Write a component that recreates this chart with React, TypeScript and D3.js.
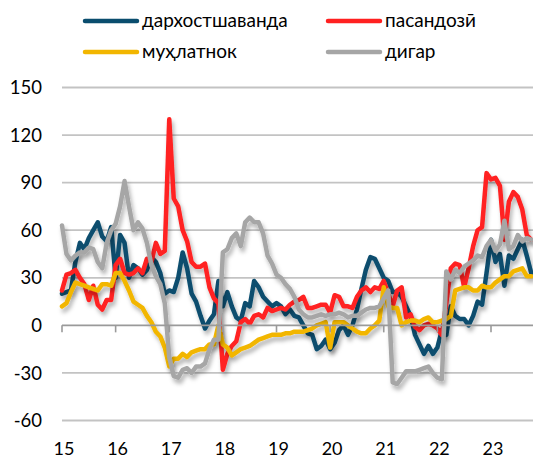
import React from "react";
import * as d3 from "d3";

const W = 533;
const H = 461;

const yearLabels = ["15", "16", "17", "18", "19", "20", "21", "22", "23"];
const yTicks = [-60, -30, 0, 30, 60, 90, 120, 150];

const seriesNames = ["дархостшаванда", "пасандозӣ", "муҳлатнок", "дигар"];
const seriesColors = ["#0a4d6e", "#ff2020", "#f2b600", "#a6a6a6"];

// monthly, Jan 2015 – Oct 2023
const demand = [
  20, 21, 22, 40, 52, 48, 55, 60, 65, 56, 53, 62,
  30, 57, 52, 30, 38, 36, 32, 35, 43, 40, 33, 20,
  22, 21, 30, 46, 36, 20, 15, 6, -2, 3, 7, 28,
  12, 21, 12, 5, 3, 14, 12, 28, 24, 18, 15, 12,
  14, 12, 7, 10, 6, 5, 0, -5, -6, -15, -13, -9,
  -15, -11, -3, 0, -6, 0, 10, 23, 35, 43, 42, 36,
  30, 28, 21, 21, 18, 12, 6, -6, -12, -18, -13, -18,
  -14, -3, -6, 12, 6, 4, 4, 0, 6, 15, 13, 33,
  54, 40, 45, 25, 44, 42, 48, 54, 44, 33,
];
const savings = [
  22, 32, 33, 35, 30, 26, 16, 25, 13, 10, 16, 16,
  38, 42, 33, 32, 33, 36, 33, 42, 40, 52, 45, 47,
  130, 80, 75, 60, 53, 40, 37, 37, 39, 24, 17, 14,
  -28, -18, -13, -10, 2, 4, 1, 6, 7, 5, 11, 9,
  10, 11, 10, 13, 15, 16, 18, 11, 11, 12, 13, 13,
  8, 19, 18, 12, 12, 11, 18, 22, 24, 21, 24, 23,
  28, 20, 12, 22, 24, 5, 7, -1, -3, 0, 1, 0,
  -2, -6, 14, 36, 39, 38, 24, 36, 50, 60, 62, 96,
  92, 93, 88, 54, 78, 84, 81, 73, 57, 54,
];
const term = [
  12, 14, 21, 27, 26, 25, 24, 23, 22, 26, 26, 25,
  33, 33, 28, 22, 15, 13, 11, 6, 2, -4, -7, -14,
  -26, -21, -21, -18, -20, -17, -16, -15, -15, -12, -12, 0,
  -12, -14, -19, -17, -15, -14, -13, -11, -9, -8, -7, -6,
  -6, -6, -5, -5, -4, -4, -4, -3, -2, 0, 1, 2,
  -14, 2, 2, 2, 0, -2, -4, -5, -5, -2, 0, 3,
  24, 12, 11, 11, 0, 2, 3, 3, 2, 4, 5, 2,
  2, 3, 4, 6, 22, 23, 24, 24, 22, 22, 25, 24,
  24, 27, 29, 31, 31, 34, 35, 36, 31, 31,
];
const other = [
  63, 45, 41, 44, 46, 46, 49, 48, 40, 36, 52, 60,
  64, 75, 91, 75, 60, 65, 61, 52, 38, 31, 26, 14,
  -20, -32, -33, -28, -27, -30, -26, -26, -24, -15, -9, -9,
  46, 48, 55, 58, 50, 65, 68, 65, 65, 58, 44, 39,
  32, 30, 26, 23, 18, 10, 7, 5, 5, 6, 7, 6,
  7, 7, 8, 7, 5, 6, 6, 8, 10, 11, 11, 12,
  17, 22, -36, -37, -33, -29, -29, -29, -28, -27, -26, -30,
  -33, -34, 34, 29, 35, 33, 37, 39, 41, 44, 43, 50,
  54, 47, 51, 66, 48, 50, 57, 53, 55, 54,
];

const seriesData = [demand, savings, term, other];

const FONT = "Lato, 'Open Sans', sans-serif";

export default function App() {
  const x = d3.scaleLinear().domain([0, 96]).range([62, 491]);
  const y = d3.scaleLinear().domain([-60, 150]).range([420.5, 87.5]);
  const line = d3
    .line<number>()
    .x((_, i) => x(i))
    .y((d) => y(d))
    .curve(d3.curveLinear);

  const legendItems = seriesNames.map((name, i) => ({
    name,
    color: seriesColors[i],
    col: i % 2,
    row: Math.floor(i / 2),
  }));

  return (
    <svg
      width={W}
      height={H}
      style={{ position: "absolute", left: 0, top: 0, background: "#fff" }}
      fontFamily={FONT}
    >
      <defs>
        <filter id="sh" x="-10%" y="-10%" width="120%" height="130%">
          <feDropShadow dx="2" dy="4" stdDeviation="2" floodColor="#000" floodOpacity="0.3" />
        </filter>
        <clipPath id="clip">
          <rect x={0} y={0} width={W} height={H} />
        </clipPath>
      </defs>

      {/* gridlines */}
      {yTicks
        .filter((t) => t !== 0)
        .map((t) => (
          <line key={t} x1={62} x2={W} y1={y(t)} y2={y(t)} stroke="#c3c3c3" strokeWidth={1.8} />
        ))}

      {/* y tick labels */}
      {yTicks.map((t) => (
        <text key={t} x={42} y={y(t)} dy="0.36em" textAnchor="end" fontSize={18.5} fill="#000">
          {t}
        </text>
      ))}

      {/* x labels */}
      {yearLabels.map((lab, i) => (
        <text key={lab} x={x(i * 12) + 2} y={449} dy="0.36em" textAnchor="middle" fontSize={18} fill="#000">
          {lab}
        </text>
      ))}

      {/* series */}
      <g clipPath="url(#clip)">
        {seriesData.map((s, i) => (
          <path
            key={i}
            d={line(s) || ""}
            fill="none"
            stroke={seriesColors[i]}
            strokeWidth={4.5}
            strokeLinejoin="round"
            strokeLinecap="round"
            filter="url(#sh)"
          />
        ))}
      </g>

      {/* zero axis */}
      <line x1={62} x2={W} y1={y(0)} y2={y(0)} stroke="#9a9a9a" strokeWidth={1.6} />
      {yearLabels.map((lab, i) => (
        <line key={lab} x1={x(i * 12)} x2={x(i * 12)} y1={y(0)} y2={y(0) + 7} stroke="#9a9a9a" strokeWidth={1.6} />
      ))}

      {/* legend */}
      {legendItems.map((it) => {
        const lx = it.col === 0 ? 85 : 328;
        const ly = it.row === 0 ? 21 : 52;
        return (
          <g key={it.name}>
            <line x1={lx} x2={lx + 52} y1={ly} y2={ly} stroke={it.color} strokeWidth={4.5} strokeLinecap="round" />
            <text x={lx + 57} y={ly} dy="0.33em" fontSize={19} fill="#000">
              {it.name}
            </text>
          </g>
        );
      })}
    </svg>
  );
}
